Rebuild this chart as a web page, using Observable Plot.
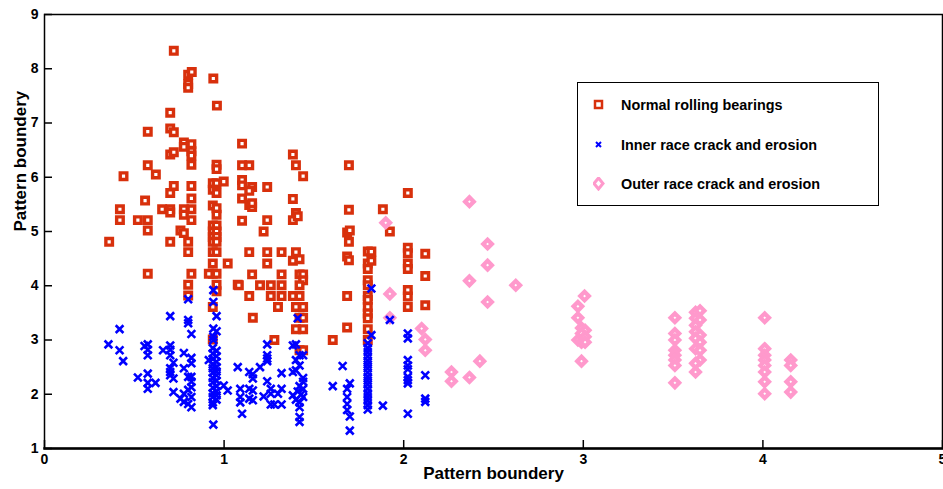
<!DOCTYPE html>
<html><head><meta charset="utf-8">
<script src="https://cdn.jsdelivr.net/npm/d3@7"></script>
<script src="https://cdn.jsdelivr.net/npm/@observablehq/plot@0.6"></script>
<style>
body{margin:0;background:#fff;}
#wrap{position:relative;width:943px;height:489px;}
#legend{position:absolute;left:577px;top:82px;width:302px;height:124px;border:1.5px solid #000;background:#fff;box-sizing:border-box;font:bold 14.4px "Liberation Sans",Arial,sans-serif;color:#000;}
.row{position:absolute;left:0;height:20px;display:flex;align-items:center;}
.row svg{position:absolute;left:15px;top:3px;}
.row span{position:absolute;left:43px;white-space:nowrap;}
</style></head><body><div id="wrap"></div>
<script>
const xTicks = [0, 1, 2, 3, 4, 5];
const yTicks = [1, 2, 3, 4, 5, 6, 7, 8, 9];
const seriesNames = ["Normal rolling bearings", "Inner race crack and erosion", "Outer race crack and erosion"];
const xLabel = "Pattern boundery";
const yLabel = "Pattern boundery";

const normal = [
[0.36,4.81],[0.42,5.41],[0.42,5.21],[0.44,6.02],[0.52,5.21],[0.56,5.57],[0.575,6.84],[0.575,6.22],[0.575,5.21],[0.575,5.02],[0.575,4.22],
[0.62,6.05],[0.655,5.41],[0.70,7.19],[0.70,6.90],[0.72,6.83],[0.70,6.42],[0.72,6.46],[0.72,8.33],[0.72,5.84],[0.70,5.71],[0.70,5.41],[0.70,5.35],[0.70,4.81],
[0.757,5.02],[0.776,4.97],[0.776,6.64],[0.776,6.56],[0.776,5.41],[0.776,5.31],[0.80,7.89],[0.82,7.94],[0.80,7.72],[0.80,7.65],
[0.818,6.61],[0.818,6.48],[0.818,6.40],[0.818,6.23],[0.818,5.84],[0.818,5.61],[0.818,5.41],[0.818,5.21],[0.80,4.81],[0.80,4.62],[0.818,4.22],[0.80,4.02],[0.80,3.82],
[0.94,7.82],[0.96,7.32],[0.958,6.23],[0.958,6.15],[0.937,5.89],[0.958,5.89],[0.998,5.92],[0.937,5.77],[0.958,5.71],[0.937,5.48],[0.958,5.43],[0.958,5.31],
[0.937,5.11],[0.958,5.11],[0.937,5.0],[0.958,5.0],[0.937,4.90],[0.958,4.90],[0.937,4.81],[0.958,4.81],[0.937,4.62],[0.958,4.62],[0.937,4.41],
[0.937,4.22],[0.915,4.22],[0.958,4.22],[0.958,4.02],[0.958,3.90],[0.937,3.61],[0.937,3.01],[1.02,4.41],[1.076,4.02],
[1.10,6.62],[1.10,6.22],[1.10,5.95],[1.10,5.85],[1.10,5.61],[1.10,5.20],[1.14,6.22],[1.383,6.42],[1.40,6.22],[1.44,6.02],
[1.156,5.82],[1.14,5.75],[1.24,5.82],[1.383,5.60],[1.14,5.49],[1.156,5.45],[1.156,5.52],[1.40,5.34],[1.383,5.21],[1.41,5.28],[1.24,5.21],[1.22,5.00],
[1.14,4.62],[1.24,4.62],[1.32,4.62],[1.40,4.62],[1.383,4.46],[1.42,4.49],[1.24,4.41],[1.156,4.21],[1.32,4.21],[1.42,4.21],[1.44,4.21],[1.44,4.10],
[1.082,4.01],[1.20,4.01],[1.26,4.01],[1.32,4.01],[1.42,4.01],[1.14,3.81],[1.26,3.81],[1.32,3.81],[1.383,3.81],[1.42,3.81],
[1.30,3.61],[1.40,3.61],[1.44,3.61],[1.16,3.41],[1.42,3.41],[1.44,3.41],[1.40,3.20],[1.44,3.20],[1.28,3.00],[1.42,2.81],[1.44,2.81],
[1.605,3.00],[1.685,3.81],[1.685,3.23],[1.685,4.98],[1.70,5.02],[1.695,4.81],[1.695,5.40],[1.695,6.22],[1.685,4.54],[1.695,4.47],
[1.80,4.63],[1.82,4.63],[1.80,4.41],[1.82,4.46],[1.80,4.31],[1.80,4.10],[1.80,4.01],[1.80,3.81],[1.80,3.74],[1.80,3.61],[1.80,3.49],[1.80,3.40],[1.80,3.20],[1.80,3.00],
[1.884,5.41],[1.923,5.00],[2.023,5.71],[2.023,4.70],[2.023,4.60],[2.023,4.41],[2.023,4.31],[2.023,3.92],[2.023,3.80],[2.023,3.61],
[2.12,4.59],[2.12,4.18],[2.12,3.64]
];

const inner = [
[0.356,2.92],[0.418,3.20],[0.418,2.81],[0.438,2.61],[0.52,2.31],[0.557,2.89],[0.575,2.92],[0.575,2.82],[0.575,2.72],[0.575,2.38],[0.575,2.21],[0.575,2.10],
[0.618,2.21],[0.66,2.81],[0.70,3.44],[0.70,2.90],[0.70,2.82],[0.70,2.72],[0.70,2.48],[0.70,2.41],[0.70,2.35],[0.718,2.58],[0.718,2.29],[0.718,2.04],
[0.757,1.92],[0.776,2.76],[0.776,2.48],[0.776,2.01],[0.776,1.86],[0.80,3.75],[0.80,3.37],[0.80,3.31],[0.80,2.32],[0.80,2.08],[0.80,1.82],
[0.818,3.11],[0.818,2.67],[0.818,2.57],[0.818,2.32],[0.818,2.23],[0.818,2.13],[0.818,1.95],[0.818,1.76],
[0.94,3.92],[0.94,3.70],[0.958,3.44],[0.94,3.21],[0.958,3.16],[0.94,3.06],[0.94,3.00],
[0.937,2.85],[0.937,2.75],[0.937,2.65],[0.937,2.55],[0.937,2.48],[0.937,2.40],[0.937,2.30],[0.937,2.22],[0.937,2.12],[0.937,2.02],[0.937,1.95],[0.937,1.85],[0.937,1.80],
[0.958,2.80],[0.958,2.70],[0.958,2.60],[0.958,2.50],[0.958,2.42],[0.958,2.35],[0.958,2.25],[0.958,2.15],[0.958,2.05],[0.958,1.98],[0.958,1.90],[0.915,2.63],
[0.94,1.44],[0.998,2.16],[1.02,2.07],[1.076,2.50],[1.09,2.10],[1.09,1.95],[1.09,1.85],[1.10,1.64],
[1.14,2.41],[1.16,2.37],[1.16,2.29],[1.14,2.10],[1.16,2.07],[1.14,1.92],[1.16,1.89],[1.20,2.50],
[1.24,2.92],[1.24,2.72],[1.24,2.66],[1.24,2.61],[1.24,2.24],[1.26,2.10],[1.26,2.01],[1.22,1.96],[1.26,1.81],[1.28,1.81],[1.32,1.81],[1.30,2.01],[1.32,2.39],[1.32,2.10],
[1.383,2.90],[1.40,2.92],[1.42,2.72],[1.44,2.72],[1.40,2.63],[1.42,2.53],[1.383,2.41],[1.40,2.44],[1.44,2.30],[1.44,2.23],
[1.42,2.15],[1.44,2.10],[1.41,2.05],[1.43,2.00],[1.44,1.95],[1.383,1.98],[1.40,1.90],[1.42,1.85],[1.42,1.76],[1.42,1.58],[1.42,1.49],[1.41,3.40],
[1.605,2.15],[1.66,2.52],[1.685,2.10],[1.70,2.20],[1.685,1.95],[1.685,1.82],[1.685,1.71],[1.70,1.59],[1.70,1.33],
[1.80,2.94],[1.80,2.85],[1.80,2.78],[1.80,2.70],[1.80,2.62],[1.80,2.55],[1.80,2.48],[1.80,2.40],[1.80,2.32],[1.80,2.25],[1.80,2.18],[1.80,2.10],[1.80,2.02],[1.80,1.95],[1.80,1.88],[1.80,1.80],[1.80,1.72],
[1.82,3.95],[1.82,3.09],[1.923,3.37],[1.884,1.79],
[2.023,3.12],[2.023,3.03],[2.023,2.63],[2.023,2.53],[2.023,2.46],[2.023,2.32],[2.023,2.26],[2.023,2.20],[2.023,1.64],
[2.12,2.35],[2.12,1.92],[2.12,1.86]
];

const outer = [
[1.90,5.16],[1.923,3.85],[1.923,3.41],[2.10,3.21],[2.12,3.01],[2.12,2.81],[2.266,2.41],[2.266,2.24],
[2.366,5.55],[2.467,4.77],[2.467,4.38],[2.366,4.09],[2.624,4.01],[2.467,3.70],[2.424,2.61],[2.366,2.31],
[3.007,3.81],[2.97,3.62],[2.97,3.41],[2.99,3.22],[3.01,3.18],[2.99,3.12],[3.01,3.06],[2.97,3.00],[2.99,2.96],[3.01,2.96],[2.99,2.61],
[3.51,3.41],[3.51,3.12],[3.51,3.00],[3.51,2.81],[3.51,2.72],[3.51,2.63],[3.51,2.53],[3.51,2.21],
[3.625,3.51],[3.65,3.54],[3.625,3.40],[3.65,3.37],[3.625,3.27],[3.625,3.15],[3.65,3.09],[3.625,3.03],[3.65,2.96],[3.625,2.84],[3.65,2.81],[3.65,2.63],[3.625,2.57],[3.625,2.41],
[4.01,3.41],[4.01,2.84],[4.01,2.72],[4.01,2.63],[4.01,2.53],[4.01,2.41],[4.01,2.23],[4.01,2.01],
[4.155,2.63],[4.155,2.53],[4.155,2.23],[4.155,2.04]
];

const colors = ["#d8300c", "#0000ff", "#ff99cc"];
const font = '"Liberation Sans", Arial, Helvetica, sans-serif';
const rows = a => a.map(([x, y]) => ({x, y}));

const chart = Plot.plot({
  width: 943, height: 489,
  marginLeft: 44, marginRight: 1, marginTop: 14, marginBottom: 41,
  style: {fontFamily: font, fontSize: "14px", fontWeight: "bold", color: "#000", background: "#fff", overflow: "visible"},
  x: {domain: [0, 5]},
  y: {domain: [1, 9]},
  marks: [
    Plot.axisX({ticks: xTicks, tickSize: -8, tickPadding: 14, strokeWidth: 1.5, label: null, tickFormat: d => d}),
    Plot.axisY({ticks: yTicks, tickSize: -8, tickPadding: 14, strokeWidth: 1.5, label: null, tickFormat: d => d}),
    Plot.dot(rows(normal), {x: "x", y: "y", symbol: "square", r: 3.7, stroke: colors[0], strokeWidth: 3.4, fill: "#fff"}),
    Plot.dot(rows(outer), {x: "x", y: "y", symbol: "diamond2", r: 3.9, stroke: colors[2], strokeWidth: 4.2, fill: "#fff"}),
    Plot.dot(rows(inner), {x: "x", y: "y", symbol: "times", r: 3.6, stroke: colors[1], strokeWidth: 2.6}),
    Plot.frame({stroke: "#000", strokeWidth: 1.5}),
    Plot.frame({anchor: "bottom", stroke: "#000", strokeWidth: 2.5}),
    Plot.text([xLabel], {text: d => d, frameAnchor: "bottom", dy: 30, fontSize: 17, fontWeight: "bold", fill: "#000"}),
    Plot.text([yLabel], {text: d => d, frameAnchor: "left", dx: -24, rotate: -90, fontSize: 17, fontWeight: "bold", fill: "#000"})
  ]
});
const wrap = document.getElementById("wrap");
wrap.appendChild(chart);

const legend = document.createElement("div");
legend.id = "legend";
const symbols = [
  '<svg width="12" height="14"><rect x="2" y="3" width="7" height="7" fill="#fff" stroke="' + colors[0] + '" stroke-width="2.5"/></svg>',
  '<svg width="12" height="14"><path d="M3,4L8,9M8,4L3,9" stroke="' + colors[1] + '" stroke-width="2"/></svg>',
  '<svg width="12" height="14"><path d="M5.5,1L10,6.5L5.5,12L1,6.5Z" fill="#fff" stroke="' + colors[2] + '" stroke-width="3"/></svg>'
];
const tops = [12, 52, 91];
seriesNames.forEach((name, i) => {
  const r = document.createElement("div");
  r.className = "row";
  r.style.top = tops[i] + "px";
  r.innerHTML = symbols[i] + "<span>" + name + "</span>";
  legend.appendChild(r);
});
wrap.appendChild(legend);
</script></body></html>
